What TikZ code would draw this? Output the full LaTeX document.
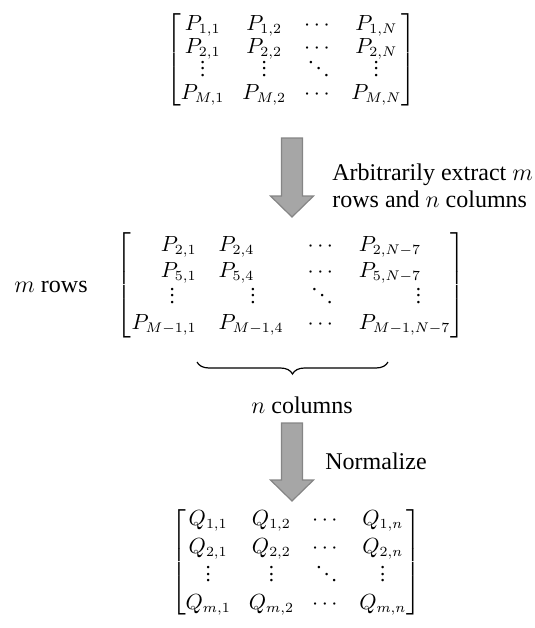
\documentclass[tikz,border=0pt]{standalone}
\usepackage{amsmath}
\usepackage{fontspec}
\setmainfont{Liberation Serif}
\usetikzlibrary{decorations.pathreplacing}
% short dots for the matrices
\newcommand{\vdt}{\vbox{\baselineskip3.2pt\lineskiplimit0pt\hbox{.}\hbox{.}\hbox{.}}}
\newcommand{\ddt}{\mathinner{\mkern1mu\raise6.4pt\hbox{.}\mkern2mu\raise3.2pt\hbox{.}\mkern2mu\raise0pt\hbox{.}\mkern1mu}}

\begin{document}
\begin{tikzpicture}[x=0.5pt, y=-0.5pt,
mat/.style={inner sep=0pt, font=\fontsize{10.5}{#1}\selectfont},
mat/.default=12pt,
lbl/.style={inner sep=0pt, align=left, font=\fontsize{12}{13.5}\selectfont},
blockarrow/.style={fill=black!35, draw=black!48, line width=0.6pt},
brace/.style={decorate, decoration={brace, mirror, amplitude=6pt}, line width=0.6pt}
]
\useasboundingbox (0,0) rectangle (535,628);
% full matrix
\node[mat=11.5pt] (matP) at (291,60) {$\arraycolsep=4.5pt\begin{bmatrix}
P_{1,1} & P_{1,2} & \cdots & P_{1,N}\\
P_{2,1} & P_{2,2} & \cdots & P_{2,N}\\
\vdt & \vdt & \ddt & \vdt\\
P_{M,1} & P_{M,2} & \cdots & P_{M,N}
\end{bmatrix}$};
% extracted sub-matrix
\node[mat=13pt] (matSub) at (291,285) {$\left[\begin{array}{@{}r@{\hspace{11pt}}l@{\hspace{12pt}}c@{\hspace{11pt}}l@{}}
P_{2,1} & P_{2,4} & \cdots & P_{2,N-7}\\
P_{5,1} & P_{5,4} & \cdots & P_{5,N-7}\\
\vdt\hphantom{{}_{5,1}} & \hphantom{P_{M}}\vdt & \ddt & \hphantom{P_{M-1,}}\vdt\\
P_{M-1,1} & P_{M-1,4} & \cdots & P_{M-1,N-7}
\end{array}\right]$};
% normalized matrix
\node[mat=14pt] (matQ) at (296,562) {$\arraycolsep=4.5pt\begin{bmatrix}
Q_{1,1} & Q_{1,2} & \cdots & Q_{1,n}\\
Q_{2,1} & Q_{2,2} & \cdots & Q_{2,n}\\
\vdt & \vdt & \ddt & \vdt\\
Q_{m,1} & Q_{m,2} & \cdots & Q_{m,n}
\end{bmatrix}$};
% block arrows
\foreach \ya/\yb in {138/217, 423/501}
  \draw[blockarrow] (281.5,\ya) -- (302.5,\ya) -- (302.5,\yb-21) -- (313.5,\yb-21)
    -- (292,\yb) -- (270.5,\yb-21) -- (281.5,\yb-21) -- cycle;
% labels
\node[lbl, anchor=west] (extract) at (332,186) {Arbitrarily extract $m$\\rows and $n$ columns};
\node[lbl, anchor=west] (norm) at (325,461) {Normalize};
\node[lbl, anchor=east] (rows) at (88,287) {$m$ rows};
\draw[brace] (197,362) -- (388,362);
\node[lbl] (cols) at (302,405) {$n$ columns};
\end{tikzpicture}
\end{document}
